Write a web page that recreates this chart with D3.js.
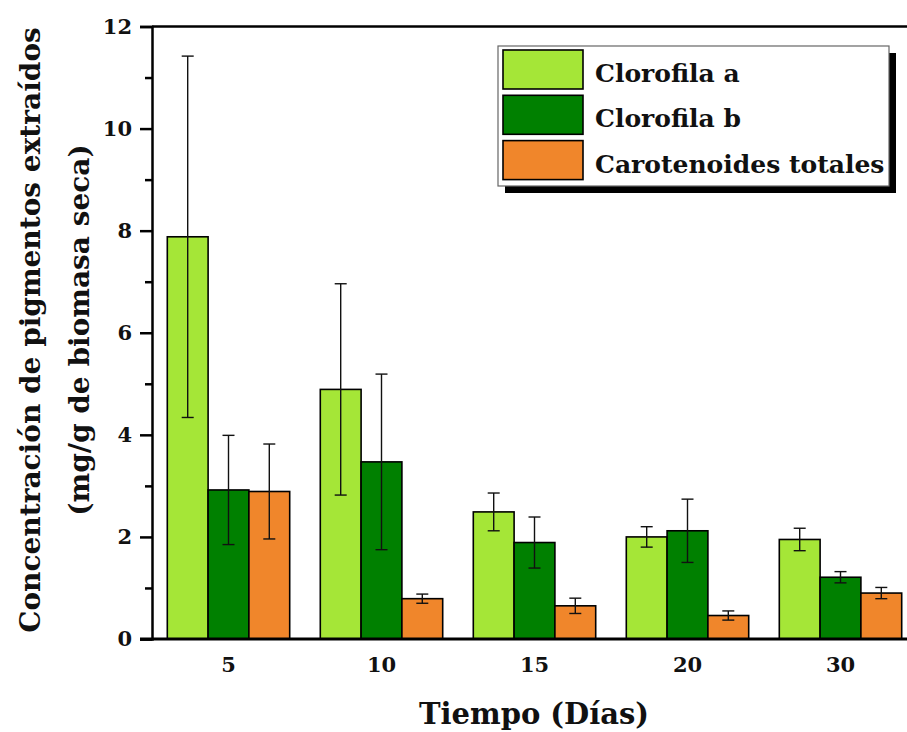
<!DOCTYPE html>
<html>
<head>
<meta charset="utf-8">
<script src="https://cdn.jsdelivr.net/npm/d3@7/dist/d3.min.js"></script>
<style>
  html, body { margin: 0; padding: 0; background: #fff; }
  svg { display: block; }
  text { font-family: "DejaVu Serif", "Liberation Serif", serif; font-weight: bold; fill: #111; }
</style>
</head>
<body>
<svg id="chart" width="907" height="732"></svg>
<script>
// ---- data ----
const categories = ["5", "10", "15", "20", "30"];
const seriesNames = ["Clorofila a", "Clorofila b", "Carotenoides totales"];
const clorofilaA = [7.88, 4.89, 2.49, 2.00, 1.95];
const clorofilaAErr = [3.54, 2.07, 0.37, 0.20, 0.22];
const clorofilaB = [2.92, 3.47, 1.89, 2.12, 1.21];
const clorofilaBErr = [1.07, 1.72, 0.50, 0.62, 0.11];
const carotenoides = [2.89, 0.79, 0.65, 0.46, 0.90];
const carotenoidesErr = [0.93, 0.09, 0.15, 0.09, 0.11];
const yTicks = [0, 2, 4, 6, 8, 10, 12];
const yMinorTicks = [1, 3, 5, 7, 9, 11];
const colors = ["#a5e637", "#008000", "#f0862b"];
const xTitle = "Tiempo (Días)";
const yTitle1 = "Concentración de pigmentos extraídos";
const yTitle2 = "(mg/g de biomasa seca)";

const values = [clorofilaA, clorofilaB, carotenoides];
const errors = [clorofilaAErr, clorofilaBErr, carotenoidesErr];

// ---- layout ----
const FONT = "DejaVu Serif";
const svg = d3.select("#chart");
const mLeft = 152, mRight = 917, mTop = 26.5, mBottom = 639;

const x = d3.scaleBand().domain(categories).range([mLeft, mRight]).paddingInner(0.2).paddingOuter(0.1);
const xs = d3.scaleBand().domain(seriesNames).range([0, x.bandwidth()]);
const y = d3.scaleLinear().domain([0, 12]).range([mBottom, mTop]);

// bars
const rows = [];
seriesNames.forEach((s, si) => {
  categories.forEach((c, ci) => {
    rows.push({ s, si, c, v: values[si][ci], e: errors[si][ci] });
  });
});

svg.append("g").selectAll("rect").data(rows).join("rect")
  .attr("x", d => x(d.c) + xs(d.s))
  .attr("y", d => y(d.v))
  .attr("width", xs.bandwidth())
  .attr("height", d => y(0) - y(d.v))
  .attr("fill", d => colors[d.si])
  .attr("stroke", "#000")
  .attr("stroke-width", 1.6);

// error bars
const eg = svg.append("g").attr("stroke", "#111").attr("stroke-width", 1.4);
rows.forEach(d => {
  const cx = x(d.c) + xs(d.s) + xs.bandwidth() / 2;
  const capW = 6;
  eg.append("line").attr("x1", cx).attr("x2", cx).attr("y1", y(d.v + d.e)).attr("y2", y(d.v - d.e));
  eg.append("line").attr("x1", cx - capW).attr("x2", cx + capW).attr("y1", y(d.v + d.e)).attr("y2", y(d.v + d.e));
  eg.append("line").attr("x1", cx - capW).attr("x2", cx + capW).attr("y1", y(d.v - d.e)).attr("y2", y(d.v - d.e));
});

// y axis
const yAxis = d3.axisLeft(y).tickValues(yTicks).tickFormat(d3.format("d")).tickSize(12).tickPadding(8);
const ya = svg.append("g").attr("transform", `translate(${mLeft},0)`).call(yAxis);
ya.select(".domain").attr("stroke", "#000").attr("stroke-width", 2.5);
ya.selectAll(".tick line").attr("stroke", "#000").attr("stroke-width", 2.5);
ya.selectAll(".tick text").attr("font-size", 21).attr("font-family", FONT).attr("font-weight", "bold").attr("fill", "#111");
const yMinor = d3.axisLeft(y).tickValues(yMinorTicks).tickFormat("").tickSize(7);
const ym = svg.append("g").attr("transform", `translate(${mLeft},0)`).call(yMinor);
ym.select(".domain").remove();
ym.selectAll(".tick line").attr("stroke", "#000").attr("stroke-width", 2.5);

// x axis
const xAxis = d3.axisBottom(x).tickSize(0).tickPadding(18);
const xa = svg.append("g").attr("transform", `translate(0,${mBottom})`).call(xAxis);
xa.select(".domain").attr("stroke", "#000").attr("stroke-width", 3).attr("d", `M${mLeft - 12},0H${mRight}`);
xa.selectAll(".tick text").attr("font-size", 21).attr("font-family", FONT).attr("font-weight", "bold").attr("fill", "#111");

// top border
svg.append("line").attr("x1", mLeft).attr("x2", mRight).attr("y1", mTop).attr("y2", mTop)
  .attr("stroke", "#000").attr("stroke-width", 2.5);

// axis titles
svg.append("text").attr("x", 534).attr("y", 724).attr("text-anchor", "middle")
  .attr("font-size", 29).text(xTitle);
const yt = svg.append("g").attr("transform", "translate(0,330) rotate(-90)");
yt.append("text").attr("x", 0).attr("y", 40).attr("text-anchor", "middle")
  .attr("font-size", 28).text(yTitle1);
yt.append("text").attr("x", 0).attr("y", 89).attr("text-anchor", "middle")
  .attr("font-size", 28).text(yTitle2);

// legend
const lg = svg.append("g");
const lx = 498, ly = 46, lw = 391, lh = 140;
lg.append("rect").attr("x", lx + 7).attr("y", ly + 7).attr("width", lw).attr("height", lh).attr("fill", "#000");
lg.append("rect").attr("x", lx).attr("y", ly).attr("width", lw).attr("height", lh)
  .attr("fill", "#fff").attr("stroke", "#666").attr("stroke-width", 1.2);
seriesNames.forEach((s, i) => {
  const ry = 50 + i * 45.3;
  lg.append("rect").attr("x", 503).attr("y", ry).attr("width", 80).attr("height", 39)
    .attr("fill", colors[i]).attr("stroke", "#000").attr("stroke-width", 1.6);
  lg.append("text").attr("x", 595).attr("y", ry + 32).attr("font-size", 25).text(s);
});
</script>
</body>
</html>
